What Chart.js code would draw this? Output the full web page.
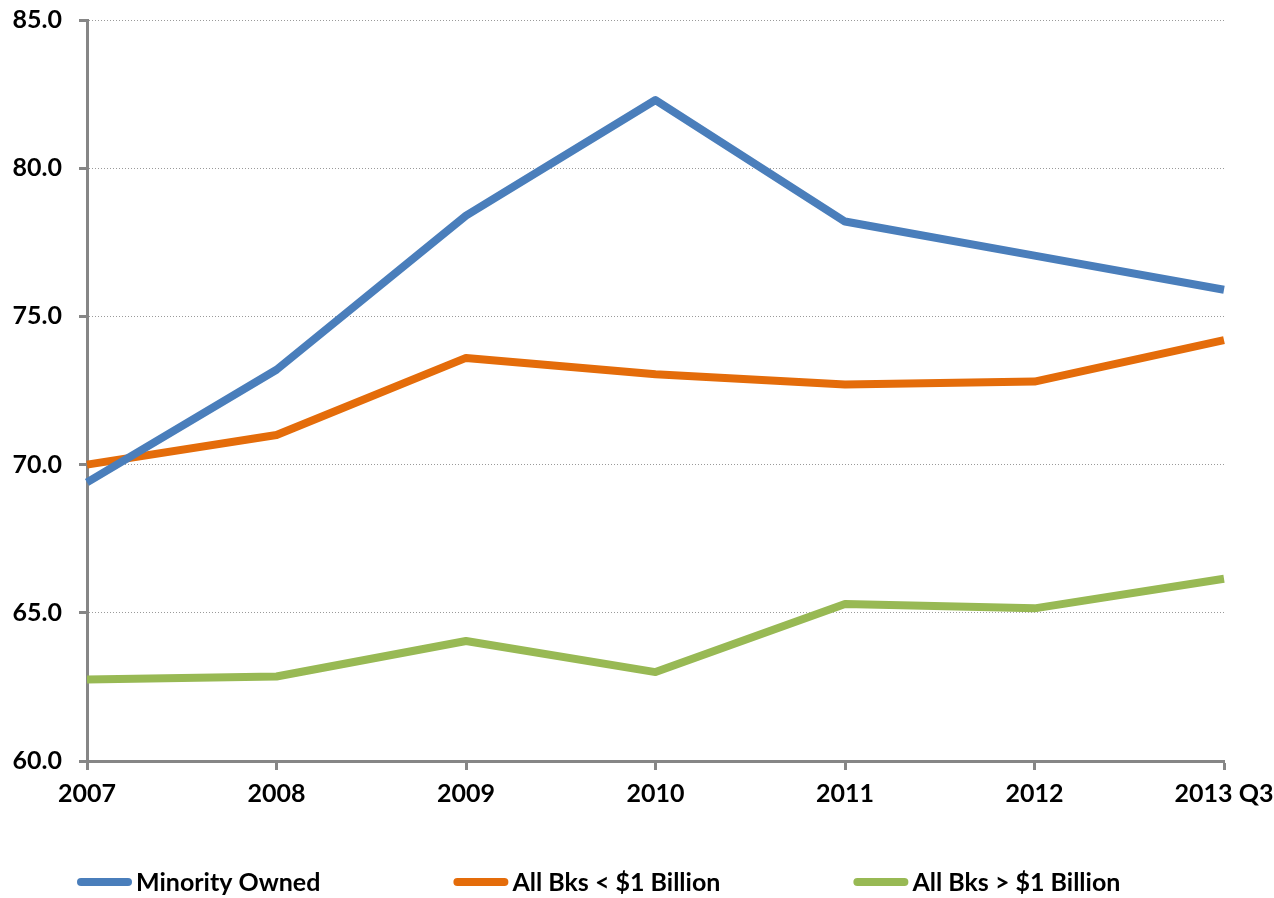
<!DOCTYPE html>
<html>
<head>
<meta charset="utf-8">
<script src="https://cdn.jsdelivr.net/npm/chart.js@4/dist/chart.umd.min.js"></script>
<style>
  html, body { margin: 0; padding: 0; background: #fff; }
  #wrap { width: 1274px; height: 898px; }
</style>
</head>
<body>
<div id="wrap"><canvas id="chart"></canvas></div>
<script>
const years = ['2007', '2008', '2009', '2010', '2011', '2012', '2013 Q3'];
const minorityOwned = [69.4, 73.2, 78.4, 82.3, 78.2, 77.05, 75.9];
const smallBanks = [70.0, 71.0, 73.6, 73.05, 72.7, 72.8, 74.2];
const largeBanks = [62.75, 62.85, 64.05, 63.0, 65.3, 65.15, 66.15];
const yTicks = [60, 65, 70, 75, 80, 85];

const FONT = 'Lato, "Open Sans", sans-serif';
const AXIS_GREY = '#868686';

// legend row drawn under the axis: rounded line swatch + bold label
const legendRow = {
  id: 'legendRow',
  afterDraw(chart) {
    const ctx = chart.ctx;
    const y = 882;
    let x = 77;
    ctx.save();
    ctx.font = 'bold 25px ' + FONT;
    ctx.textBaseline = 'middle';
    ctx.textAlign = 'left';
    chart.data.datasets.forEach((ds) => {
      ctx.strokeStyle = ds.borderColor;
      ctx.lineWidth = 8;
      ctx.lineCap = 'round';
      ctx.beginPath();
      ctx.moveTo(x + 4, y);
      ctx.lineTo(x + 51, y);
      ctx.stroke();
      ctx.fillStyle = '#000';
      ctx.fillText(ds.label, x + 59, y + 1);
      x += 59 + ctx.measureText(ds.label).width + 133;
    });
    ctx.restore();
  }
};

const lineStyle = {
  borderWidth: 8,
  pointRadius: 0,
  tension: 0,
  fill: false,
  borderCapStyle: 'butt',
  borderJoinStyle: 'round',
};

new Chart(document.getElementById('chart'), {
  type: 'line',
  data: {
    labels: years,
    datasets: [
      { label: 'Minority Owned', data: minorityOwned, borderColor: '#4A7EBB', ...lineStyle },
      { label: 'All Bks < $1 Billion', data: smallBanks, borderColor: '#E46C0A', ...lineStyle },
      { label: 'All Bks > $1 Billion', data: largeBanks, borderColor: '#98B954', ...lineStyle },
    ],
  },
  plugins: [legendRow],
  options: {
    responsive: true,
    maintainAspectRatio: false,
    animation: false,
    layout: { padding: { top: 20, right: 50, bottom: 77, left: 0 } },
    plugins: {
      legend: { display: false },
      tooltip: { enabled: false },
    },
    scales: {
      x: {
        offset: false,
        afterFit: (scale) => {
          scale.height = 60;
          scale.paddingLeft = 0;
          scale.paddingRight = 0;
        },
        grid: {
          drawOnChartArea: false,
          tickLength: 9,
          tickWidth: 3,
          tickColor: AXIS_GREY,
          offset: false,
        },
        border: { color: AXIS_GREY, width: 3 },
        ticks: {
          color: '#000',
          font: { family: FONT, size: 25, weight: 'bold' },
          padding: 9,
          maxRotation: 0,
          autoSkip: false,
        },
      },
      y: {
        min: 60,
        max: 85,
        afterFit: (scale) => {
          scale.width = 87;
          scale.paddingTop = 0;
          scale.paddingBottom = 0;
        },
        afterBuildTicks: (scale) => { scale.ticks = yTicks.map((v) => ({ value: v })); },
        grid: {
          color: '#9a9a9a',
          lineWidth: 1,
          tickLength: 8,
          tickWidth: 3,
          tickColor: AXIS_GREY,
        },
        border: { color: AXIS_GREY, width: 3, dash: [1, 2] },
        ticks: {
          color: '#000',
          font: { family: FONT, size: 25, weight: 'bold' },
          padding: 17,
          callback: (v) => Number(v).toFixed(1),
        },
      },
    },
  },
});
</script>
</body>
</html>
